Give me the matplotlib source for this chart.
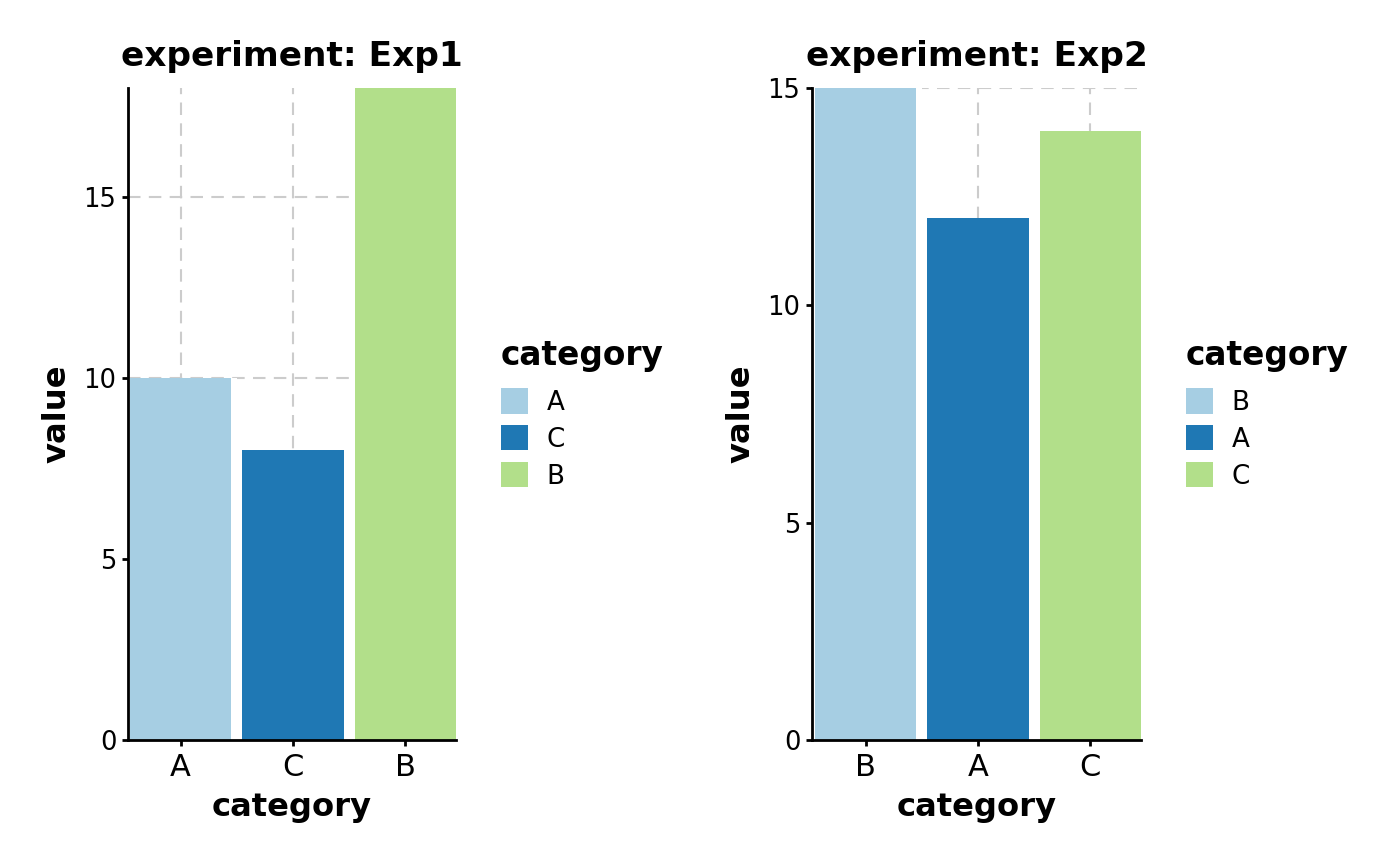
import matplotlib
matplotlib.use("Agg")
import matplotlib.pyplot as plt
from matplotlib.patches import Patch

# Data for the two facets
exp1_categories = ["A", "C", "B"]
exp1_values = [10, 8, 18]
exp2_categories = ["B", "A", "C"]
exp2_values = [15, 12, 14]
experiments = ["Exp1", "Exp2"]
y_ticks = [0, 5, 10, 15]

colors = ["#A6CEE3", "#1F78B4", "#B2DF8A"]

plt.rcParams["font.family"] = ["DejaVu Sans"]

fig = plt.figure(figsize=(7, 4.33), dpi=200)

panels = [
    (exp1_categories, exp1_values, [128 / 1400, 126 / 866, 328 / 1400, 652 / 866], -0.468, 501 / 1400),
    (exp2_categories, exp2_values, [812 / 1400, 126 / 866, 329 / 1400, 652 / 866], -0.477, 1186 / 1400),
]

for (cats, vals, rect, x_left, leg_x), exp in zip(panels, experiments):
    ax = fig.add_axes(rect)
    x = range(len(cats))
    ax.set_axisbelow(True)
    ax.grid(True, linestyle=(0, (6, 4)), color="#CCCCCC", linewidth=0.75)
    # white backing bars hide the grid in the gaps between bars
    ax.bar(x, vals, width=1.0, color="white", zorder=1.5)
    ax.bar(x, vals, width=0.9, color=colors, zorder=2)
    ax.set_xlim(x_left, 2.45)
    ax.set_ylim(0, max(vals))
    ax.set_xticks(list(x))
    ax.set_xticklabels(cats, fontsize=11)
    ax.set_yticks(y_ticks)
    ax.tick_params(axis="y", labelsize=9.3, length=2.2, width=1.0, pad=2)
    ax.tick_params(axis="x", length=2.2, width=1.0, pad=2.5)
    for side in ["top", "right"]:
        ax.spines[side].set_visible(False)
    for side in ["left", "bottom"]:
        ax.spines[side].set_linewidth(1.0)
    ax.set_title(f"experiment: {exp}", fontsize=12.4, fontweight="bold", pad=8)
    ax.set_xlabel("category", fontsize=11.6, fontweight="bold", labelpad=3.5)
    ax.set_ylabel("value", fontsize=11.6, fontweight="bold", labelpad=4)

    handles = [Patch(facecolor=c, edgecolor="none", label=cat) for c, cat in zip(colors, cats)]
    leg = fig.legend(
        handles=handles,
        title="category",
        loc="upper left",
        bbox_to_anchor=(leg_x, 1 - 339 / 866),
        frameon=False,
        fontsize=9.4,
        title_fontproperties={"weight": "bold", "size": 11.8},
        handlelength=1.05,
        handleheight=1.12,
        labelspacing=0.36,
        handletextpad=0.7,
        borderpad=0,
        borderaxespad=0,
        alignment="left",
    )
    # extra space between legend title and keys
    leg._legend_box.sep = 5.8

fig.savefig("out.png", dpi=200, facecolor="white")
